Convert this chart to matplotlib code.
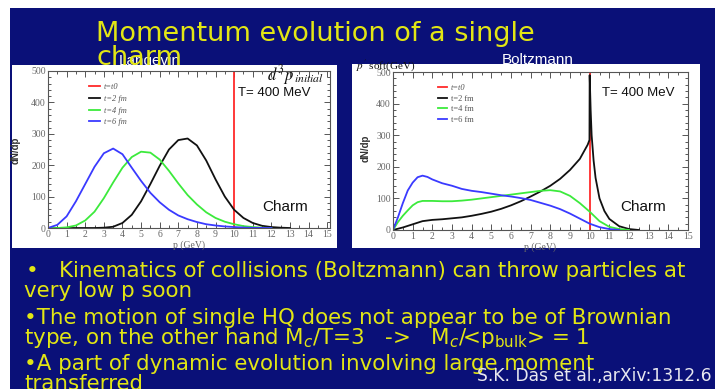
import numpy as np
import matplotlib
matplotlib.use("Agg")
import matplotlib.pyplot as plt
from matplotlib.patches import Rectangle
from matplotlib.ticker import MultipleLocator

# ---------------- data ----------------
# Langevin panel
lang_p_blue = [0, 0.5, 1.0, 1.5, 2.0, 2.5, 3.0, 3.5, 4.0, 4.5, 5.0, 5.5, 6.0, 6.5, 7.0, 7.5, 8.0, 8.5, 9.0, 9.5, 10.0, 10.5, 11.0, 12.0]
lang_blue = [0, 10, 37, 85, 140, 195, 238, 253, 235, 192, 150, 112, 82, 58, 40, 28, 19, 12, 8, 5, 3, 1.5, 0.5, 0]
lang_p_green = [0, 0.5, 1.0, 1.5, 2.0, 2.5, 3.0, 3.5, 4.0, 4.5, 5.0, 5.5, 6.0, 6.5, 7.0, 7.5, 8.0, 8.5, 9.0, 9.5, 10.0, 10.5, 11.0, 11.5, 12.0]
lang_green = [0, 0, 2, 8, 24, 52, 95, 145, 192, 226, 243, 240, 218, 182, 142, 105, 75, 50, 32, 20, 12, 6, 3, 1, 0]
lang_p_black = [0, 1.0, 2.0, 2.5, 3.0, 3.5, 4.0, 4.5, 5.0, 5.5, 6.0, 6.5, 7.0, 7.5, 8.0, 8.5, 9.0, 9.5, 10.0, 10.5, 11.0, 11.5, 12.0, 12.5, 13.0]
lang_black = [0, 0, 0, 0, 1, 4, 16, 42, 85, 140, 198, 250, 280, 285, 263, 215, 155, 100, 58, 32, 16, 7, 3, 1, 0]

# Boltzmann panel
boltz_p_blue = [0, 0.25, 0.5, 0.75, 1.0, 1.25, 1.5, 1.75, 2.0, 2.5, 3.0, 3.5, 4.0, 4.5, 5.0, 5.5, 6.0, 6.5, 7.0, 7.5, 8.0, 8.5, 9.0, 9.5, 10.0, 10.5, 11.0, 11.5]
boltz_blue = [0, 40, 85, 125, 150, 167, 172, 168, 160, 148, 140, 130, 124, 120, 115, 110, 106, 101, 95, 86, 77, 66, 52, 36, 20, 9, 3, 0]
boltz_p_green = [0, 0.25, 0.5, 0.75, 1.0, 1.25, 1.5, 2.0, 2.5, 3.0, 3.5, 4.0, 4.5, 5.0, 5.5, 6.0, 6.5, 7.0, 7.5, 8.0, 8.5, 9.0, 9.5, 10.0, 10.5, 11.0, 11.5, 12.0]
boltz_green = [0, 25, 45, 62, 78, 88, 92, 92, 91, 91, 93, 96, 100, 104, 108, 112, 116, 120, 124, 126, 122, 108, 85, 58, 28, 10, 3, 0]
boltz_p_black = [0, 0.5, 1.0, 1.5, 2.0, 2.5, 3.0, 3.5, 4.0, 4.5, 5.0, 5.5, 6.0, 6.5, 7.0, 7.5, 8.0, 8.5, 9.0, 9.5, 9.9, 9.99, 10.0, 10.05, 10.1, 10.2, 10.3, 10.5, 10.75, 11.0, 11.5, 12.0, 12.5]
boltz_black = [0, 8, 18, 28, 32, 34, 37, 40, 45, 51, 58, 67, 78, 91, 106, 122, 140, 162, 190, 225, 270, 285, 490, 380, 300, 220, 165, 100, 60, 35, 12, 3, 0]

p_initial = 10.0
legend_left = ["t=t0", "t=2 fm", "t=4 fm", "t=6 fm"]
legend_right = ["t=t0", "t=2 fm", "t=4 fm", "t=6 fm"]

title_lines = ["Momentum evolution of a single", "charm"]
bullets = [
    "•   Kinematics of collisions (Boltzmann) can throw particles at",
    "very low p soon",
    "•The motion of single HQ does not appear to be of Brownian",
    r"type, on the other hand M$_c$/T=3   ->   M$_c$/<p$_{\rm bulk}$> = 1",
    "•A part of dynamic evolution involving large moment",
    "transferred",
]
source = "S.K. Das et al.,arXiv:1312.6"

# ---------------- style ----------------
W, H = 715, 389
BG = "#0a1078"
YEL = "#e2e614"
RED, BLK, GRN, BLU = "#ff2a2a", "#111111", "#3cea3c", "#3a3aff"

fig = plt.figure(figsize=(W / 100, H / 100), dpi=100)
fig.patch.set_facecolor("white")

def fx(x):
    return x / W

def fy(y):
    return 1 - y / H

def box(x0, y0, x1, y1, color, z=0):
    fig.patches.append(Rectangle((fx(x0), fy(y1)), (x1 - x0) / W, (y1 - y0) / H,
                                 transform=fig.transFigure, facecolor=color,
                                 edgecolor="none", zorder=z))

# slide background and white picture panels
box(10, 8, W, H, BG, z=0)
box(12, 65, 337, 248, "white", z=1)
box(352, 64, 700, 248, "white", z=1)

def make_axes(rect):
    ax = fig.add_axes(rect)
    ax.set_facecolor("none")
    ax.set_zorder(3)
    ax.set_xlim(0, 15.15)
    ax.set_ylim(0, 500)
    ax.xaxis.set_major_locator(MultipleLocator(1))
    ax.xaxis.set_minor_locator(MultipleLocator(0.5))
    ax.yaxis.set_major_locator(MultipleLocator(100))
    ax.yaxis.set_minor_locator(MultipleLocator(20))
    ax.tick_params(which="both", direction="in", top=True, right=True, colors="#555555",
                   labelsize=7, pad=1.5, width=0.7)
    ax.tick_params(which="major", length=4)
    ax.tick_params(which="minor", length=2)
    for lab in ax.get_xticklabels() + ax.get_yticklabels():
        lab.set_fontfamily("Liberation Serif")
        lab.set_color("#666666")
    for s in ax.spines.values():
        s.set_color("#555555")
        s.set_linewidth(0.8)
    ax.set_xlabel("p (GeV)", fontfamily="Liberation Serif", fontsize=7, color="#666666", labelpad=1)
    return ax

axL = make_axes([fx(48), fy(228), (330 - 48) / W, (228 - 71) / H])
axR = make_axes([fx(393), fy(230), (688 - 393) / W, (230 - 72) / H])
axR.set_xlim(0, 15)

lw = 1.3
# left
axL.axvline(p_initial, color=RED, lw=lw, label=legend_left[0])
axL.plot(lang_p_black, lang_black, color=BLK, lw=lw, label=legend_left[1])
axL.plot(lang_p_green, lang_green, color=GRN, lw=lw, label=legend_left[2])
axL.plot(lang_p_blue, lang_blue, color=BLU, lw=lw, label=legend_left[3])
# right
axR.axvline(p_initial, color=RED, lw=lw, label=legend_right[0])
axR.plot(boltz_p_black, boltz_black, color=BLK, lw=lw, label=legend_right[1])
axR.plot(boltz_p_green, boltz_green, color=GRN, lw=lw, label=legend_right[2])
axR.plot(boltz_p_blue, boltz_blue, color=BLU, lw=lw, label=legend_right[3])

legL = axL.legend(loc="upper left", bbox_to_anchor=(0.13, 0.95), frameon=False,
                  prop={"family": "Liberation Serif", "style": "italic", "size": 6},
                  handlelength=1.3, handletextpad=0.5, labelspacing=0.45, borderpad=0)
legR = axR.legend(loc="upper left", bbox_to_anchor=(0.14, 0.95), frameon=False,
                  prop={"family": "Liberation Serif", "size": 6},
                  handlelength=1.0, handletextpad=0.5, labelspacing=0.3, borderpad=0)
legR.get_texts()[0].set_style("italic")
for lg in (legL, legR):
    for t in lg.get_texts():
        t.set_color("#555555")

axL.text(0.674, 0.86, "T= 400 MeV", transform=axL.transAxes, fontsize=9.5,
         fontfamily="Liberation Sans", va="center", ha="left", color="#111111")
axR.text(0.708, 0.867, "T= 400 MeV", transform=axR.transAxes, fontsize=9.5,
         fontfamily="Liberation Sans", va="center", ha="left", color="#111111")
axL.text(0.759, 0.134, "Charm", transform=axL.transAxes, fontsize=11,
         fontfamily="Liberation Sans", va="center", ha="left", color="#111111")
axR.text(0.769, 0.146, "Charm", transform=axR.transAxes, fontsize=11,
         fontfamily="Liberation Sans", va="center", ha="left", color="#111111")
axL.text(0.775, 0.975, r"$\mathbf{\mathit{d^3p}}_{\,initial}$", transform=axL.transAxes, fontsize=12,
         math_fontfamily="stix", va="center", ha="left", color="#111111")

# overlapping fragment at top-left of right picture
fig.text(fx(356), fy(66), r"$p^{\prime}$ soft(GeV)", fontsize=8, math_fontfamily="stix",
         fontfamily="Liberation Serif", color="#111111", ha="left", va="center", zorder=2)

# y labels
fig.text(fx(16), fy(150), "dN/dp", rotation=90, fontsize=7, fontweight="bold",
         fontfamily="Liberation Sans", ha="center", va="center", color="#333333", zorder=4)
fig.text(fx(366), fy(148), "dN/dp", rotation=90, fontsize=7, fontweight="bold",
         fontfamily="Liberation Sans", ha="center", va="center", color="#333333", zorder=4)

# panel captions
fig.text(fx(150), fy(61), "Langevin", fontsize=11, fontfamily="Liberation Sans",
         color="white", ha="center", va="center", zorder=2)
fig.text(fx(538), fy(60), "Boltzmann", fontsize=11, fontfamily="Liberation Sans",
         color="white", ha="center", va="center", zorder=2)

# title
fig.text(fx(96), fy(34), title_lines[0], fontsize=19.5, color=YEL, ha="left", va="center", zorder=2)
fig.text(fx(96), fy(58), title_lines[1], fontsize=19.5, color=YEL, ha="left", va="center", zorder=2)

# bullets
ys = [271, 291, 318, 338, 364, 384]
xs = [26, 24, 24, 24, 24, 24]
for x, y, s in zip(xs, ys, bullets):
    fig.text(fx(x), fy(y), s, fontsize=15.4, color=YEL, ha="left", va="center", zorder=5)

fig.text(fx(477), fy(376), source, fontsize=12.3, color="#e8e8f0", ha="left", va="center", zorder=6)

fig.savefig("out.png", dpi=100, facecolor=fig.get_facecolor())
